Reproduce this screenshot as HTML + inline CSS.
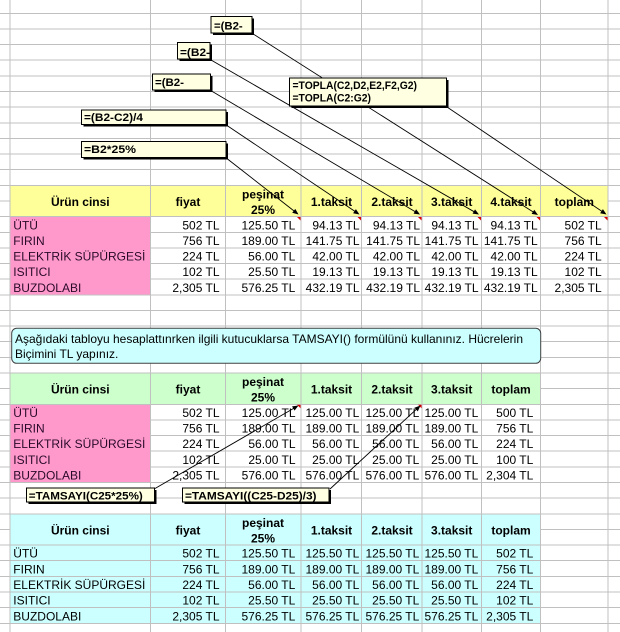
<!DOCTYPE html>
<html>
<head>
<meta charset="utf-8">
<style>
html,body{margin:0;padding:0;background:#fff;}
svg{display:block;}
text{font-family:"Liberation Sans",Arial,sans-serif;font-size:12px;fill:#000;}
.b{font-weight:bold;}
.c{text-anchor:middle;}
.r{text-anchor:end;}
.p{fill:#2a0a2a;}
.cm{font-family:"Liberation Sans",Arial,sans-serif;font-weight:bold;font-size:11px;}
</style>
</head>
<body>
<svg width="620" height="632" viewBox="0 0 620 632" xmlns="http://www.w3.org/2000/svg">
<defs>
<clipPath id="cb2"><rect x="178" y="43" width="31.5" height="15.5"/></clipPath>
</defs>
<rect x="0" y="0" width="620" height="632" fill="#fff"/>

<!-- fills -->
<rect x="10" y="185.3" width="598" height="31.3" fill="#FFFF99"/>
<rect x="10" y="216.6" width="140.5" height="78.2" fill="#FF99CC"/>
<rect x="10" y="373" width="530.5" height="31.3" fill="#CCFFCC"/>
<rect x="10" y="404.3" width="140.5" height="78.2" fill="#FF99CC"/>
<rect x="10" y="513.8" width="530.5" height="109.5" fill="#CCFFFF"/>

<!-- gridlines -->
<g stroke="#c0c0c0" stroke-width="1" fill="none" shape-rendering="crispEdges">
<path d="
M0 13.3H620 M0 28.94H620 M0 44.58H620 M0 60.22H620 M0 75.86H620 M0 91.5H620
M0 107.14H620 M0 122.78H620 M0 138.42H620 M0 154.06H620 M0 169.7H620 M0 185.34H620
M0 200.98H10 M608 200.98H620
M0 216.62H620
M0 232.26H10 M150.5 232.26H620
M0 247.9H10 M150.5 247.9H620
M0 263.54H10 M150.5 263.54H620
M0 279.18H10 M150.5 279.18H620
M0 294.82H620 M0 310.46H620 M0 326.1H620 M0 341.74H620 M0 357.38H620 M0 373.02H620
M0 388.66H10 M540.5 388.66H620
M0 404.3H620
M0 419.94H10 M150.5 419.94H620
M0 435.58H10 M150.5 435.58H620
M0 451.22H10 M150.5 451.22H620
M0 466.86H10 M150.5 466.86H620
M0 482.5H620 M0 498.14H620 M0 513.78H620
M0 529.42H10 M540.5 529.42H620
M0 545.06H620 M0 560.7H620 M0 576.34H620 M0 591.98H620 M0 607.62H620 M0 623.26H620
"/>
<path d="M10 0V632 M150.5 0V632 M225.5 0V632 M301 0V632 M361.5 0V632 M422 0V632 M481.5 0V632 M540.5 0V632 M608 0V632"/>
</g>

<!-- table 1 header -->
<text class="b c" x="80.3" y="206">Ürün cinsi</text>
<text class="b c" x="188" y="206">fiyat</text>
<text class="b c" x="263" y="198.3">peşinat</text>
<text class="b c" x="263" y="214">25%</text>
<text class="b c" x="331.5" y="206">1.taksit</text>
<text class="b c" x="392" y="206">2.taksit</text>
<text class="b c" x="451.7" y="206">3.taksit</text>
<text class="b c" x="511" y="206">4.taksit</text>
<text class="b c" x="574.3" y="206">toplam</text>

<!-- table 1 data -->
<g>
<text class="p" x="13.3" y="229.3">ÜTÜ</text>
<text class="p" x="13.3" y="244.9">FIRIN</text>
<text class="p" x="13.3" y="260.5">ELEKTRİK SÜPÜRGESİ</text>
<text class="p" x="13.3" y="276.2">ISITICI</text>
<text class="p" x="13.3" y="291.8">BUZDOLABI</text>

<text class="r" x="219.5" y="229.3">502 TL</text>
<text class="r" x="219.5" y="244.9">756 TL</text>
<text class="r" x="219.5" y="260.5">224 TL</text>
<text class="r" x="219.5" y="276.2">102 TL</text>
<text class="r" x="219.5" y="291.8">2,305 TL</text>

<text class="r" x="295.3" y="229.3">125.50 TL</text>
<text class="r" x="295.3" y="244.9">189.00 TL</text>
<text class="r" x="295.3" y="260.5">56.00 TL</text>
<text class="r" x="295.3" y="276.2">25.50 TL</text>
<text class="r" x="295.3" y="291.8">576.25 TL</text>

<text class="r" x="359.5" y="229.3">94.13 TL</text>
<text class="r" x="359.5" y="244.9">141.75 TL</text>
<text class="r" x="359.5" y="260.5">42.00 TL</text>
<text class="r" x="359.5" y="276.2">19.13 TL</text>
<text class="r" x="359.5" y="291.8">432.19 TL</text>

<text class="r" x="420" y="229.3">94.13 TL</text>
<text class="r" x="420" y="244.9">141.75 TL</text>
<text class="r" x="420" y="260.5">42.00 TL</text>
<text class="r" x="420" y="276.2">19.13 TL</text>
<text class="r" x="420" y="291.8">432.19 TL</text>

<text class="r" x="478.5" y="229.3">94.13 TL</text>
<text class="r" x="478.5" y="244.9">141.75 TL</text>
<text class="r" x="478.5" y="260.5">42.00 TL</text>
<text class="r" x="478.5" y="276.2">19.13 TL</text>
<text class="r" x="478.5" y="291.8">432.19 TL</text>

<text class="r" x="537.7" y="229.3">94.13 TL</text>
<text class="r" x="537.7" y="244.9">141.75 TL</text>
<text class="r" x="537.7" y="260.5">42.00 TL</text>
<text class="r" x="537.7" y="276.2">19.13 TL</text>
<text class="r" x="537.7" y="291.8">432.19 TL</text>

<text class="r" x="601.7" y="229.3">502 TL</text>
<text class="r" x="601.7" y="244.9">756 TL</text>
<text class="r" x="601.7" y="260.5">224 TL</text>
<text class="r" x="601.7" y="276.2">102 TL</text>
<text class="r" x="601.7" y="291.8">2,305 TL</text>
</g>

<!-- instruction box -->
<rect x="11.7" y="328.3" width="529" height="35" rx="5" ry="5" fill="#CCFFFF" stroke="#404040" stroke-width="1"/>
<text x="15" y="343" textLength="508" lengthAdjust="spacingAndGlyphs">Aşağıdaki tabloyu hesaplattınrken ilgili kutucuklarsa TAMSAYI() formülünü kullanınız. Hücrelerin</text>
<text x="15" y="358.2">Biçimini TL yapınız.</text>

<!-- table 2 header -->
<text class="b c" x="80.3" y="393.7">Ürün cinsi</text>
<text class="b c" x="188" y="393.7">fiyat</text>
<text class="b c" x="263" y="386">peşinat</text>
<text class="b c" x="263" y="401.7">25%</text>
<text class="b c" x="331.5" y="393.7">1.taksit</text>
<text class="b c" x="392" y="393.7">2.taksit</text>
<text class="b c" x="451.7" y="393.7">3.taksit</text>
<text class="b c" x="511" y="393.7">toplam</text>

<!-- table 2 data -->
<g>
<text class="p" x="13.3" y="417">ÜTÜ</text>
<text class="p" x="13.3" y="432.6">FIRIN</text>
<text class="p" x="13.3" y="448.2">ELEKTRİK SÜPÜRGESİ</text>
<text class="p" x="13.3" y="463.9">ISITICI</text>
<text class="p" x="13.3" y="479.5">BUZDOLABI</text>

<text class="r" x="219.5" y="417">502 TL</text>
<text class="r" x="219.5" y="432.6">756 TL</text>
<text class="r" x="219.5" y="448.2">224 TL</text>
<text class="r" x="219.5" y="463.9">102 TL</text>
<text class="r" x="219.5" y="479.5">2,305 TL</text>

<text class="r" x="295.5" y="417">125.00 TL</text>
<text class="r" x="295.5" y="432.6">189.00 TL</text>
<text class="r" x="295.5" y="448.2">56.00 TL</text>
<text class="r" x="295.5" y="463.9">25.00 TL</text>
<text class="r" x="295.5" y="479.5">576.00 TL</text>

<text class="r" x="359.3" y="417">125.00 TL</text>
<text class="r" x="359.3" y="432.6">189.00 TL</text>
<text class="r" x="359.3" y="448.2">56.00 TL</text>
<text class="r" x="359.3" y="463.9">25.00 TL</text>
<text class="r" x="359.3" y="479.5">576.00 TL</text>

<text class="r" x="419.3" y="417">125.00 TL</text>
<text class="r" x="419.3" y="432.6">189.00 TL</text>
<text class="r" x="419.3" y="448.2">56.00 TL</text>
<text class="r" x="419.3" y="463.9">25.00 TL</text>
<text class="r" x="419.3" y="479.5">576.00 TL</text>

<text class="r" x="478.3" y="417">125.00 TL</text>
<text class="r" x="478.3" y="432.6">189.00 TL</text>
<text class="r" x="478.3" y="448.2">56.00 TL</text>
<text class="r" x="478.3" y="463.9">25.00 TL</text>
<text class="r" x="478.3" y="479.5">576.00 TL</text>

<text class="r" x="533.3" y="417">500 TL</text>
<text class="r" x="533.3" y="432.6">756 TL</text>
<text class="r" x="533.3" y="448.2">224 TL</text>
<text class="r" x="533.3" y="463.9">100 TL</text>
<text class="r" x="533.3" y="479.5">2,304 TL</text>
</g>

<!-- table 3 header -->
<text class="b c" x="80.3" y="534.5">Ürün cinsi</text>
<text class="b c" x="188" y="534.5">fiyat</text>
<text class="b c" x="263" y="526.8">peşinat</text>
<text class="b c" x="263" y="542.5">25%</text>
<text class="b c" x="331.5" y="534.5">1.taksit</text>
<text class="b c" x="392" y="534.5">2.taksit</text>
<text class="b c" x="451.7" y="534.5">3.taksit</text>
<text class="b c" x="511" y="534.5">toplam</text>

<!-- table 3 data -->
<g>
<text x="13.3" y="557.7">ÜTÜ</text>
<text x="13.3" y="573.3">FIRIN</text>
<text x="13.3" y="589">ELEKTRİK SÜPÜRGESİ</text>
<text x="13.3" y="604.6">ISITICI</text>
<text x="13.3" y="620.3">BUZDOLABI</text>

<text class="r" x="219.5" y="557.7">502 TL</text>
<text class="r" x="219.5" y="573.3">756 TL</text>
<text class="r" x="219.5" y="589">224 TL</text>
<text class="r" x="219.5" y="604.6">102 TL</text>
<text class="r" x="219.5" y="620.3">2,305 TL</text>

<text class="r" x="295.3" y="557.7">125.50 TL</text>
<text class="r" x="295.3" y="573.3">189.00 TL</text>
<text class="r" x="295.3" y="589">56.00 TL</text>
<text class="r" x="295.3" y="604.6">25.50 TL</text>
<text class="r" x="295.3" y="620.3">576.25 TL</text>

<text class="r" x="359.3" y="557.7">125.50 TL</text>
<text class="r" x="359.3" y="573.3">189.00 TL</text>
<text class="r" x="359.3" y="589">56.00 TL</text>
<text class="r" x="359.3" y="604.6">25.50 TL</text>
<text class="r" x="359.3" y="620.3">576.25 TL</text>

<text class="r" x="419.3" y="557.7">125.50 TL</text>
<text class="r" x="419.3" y="573.3">189.00 TL</text>
<text class="r" x="419.3" y="589">56.00 TL</text>
<text class="r" x="419.3" y="604.6">25.50 TL</text>
<text class="r" x="419.3" y="620.3">576.25 TL</text>

<text class="r" x="478.3" y="557.7">125.50 TL</text>
<text class="r" x="478.3" y="573.3">189.00 TL</text>
<text class="r" x="478.3" y="589">56.00 TL</text>
<text class="r" x="478.3" y="604.6">25.50 TL</text>
<text class="r" x="478.3" y="620.3">576.25 TL</text>

<text class="r" x="533.3" y="557.7">502 TL</text>
<text class="r" x="533.3" y="573.3">756 TL</text>
<text class="r" x="533.3" y="589">224 TL</text>
<text class="r" x="533.3" y="604.6">102 TL</text>
<text class="r" x="533.3" y="620.3">2,305 TL</text>
</g>

<!-- comment indicators (red) -->
<g fill="#e00000">
<polygon points="297,217 300.5,217 300.5,220.5"/>
<polygon points="357.5,217 361,217 361,220.5"/>
<polygon points="418,217 421.5,217 421.5,220.5"/>
<polygon points="477.5,217 481,217 481,220.5"/>
<polygon points="536.5,217 540,217 540,220.5"/>
<polygon points="604,217 607.5,217 607.5,220.5"/>
<polygon points="297,404.8 300.5,404.8 300.5,408.3"/>
<polygon points="418,404.8 421.5,404.8 421.5,408.3"/>
</g>

<!-- leader lines -->
<g stroke="#000" stroke-width="0.9" fill="none">
<line x1="254" y1="34.5" x2="535" y2="213.1"/>
<line x1="211" y1="60" x2="476" y2="212.8"/>
<line x1="211.5" y1="91" x2="417" y2="212.7"/>
<line x1="227" y1="125.5" x2="357" y2="212.8"/>
<line x1="227.5" y1="159" x2="296" y2="212.5"/>
<line x1="447" y1="107" x2="604" y2="212.8"/>
<line x1="155" y1="488.5" x2="296" y2="407"/>
<line x1="330" y1="489" x2="418.5" y2="407.3"/>
</g>
<g fill="#000">
<polygon points="538,215 531.6,213.9 534.3,209.7"/>
<polygon points="479,214.5 472.55,213.67 475.05,209.33"/>
<polygon points="420,214.5 413.57,213.59 416.11,209.29"/>
<polygon points="359.5,214.5 353.13,213.23 355.91,209.07"/>
<polygon points="298.5,214.5 292.23,212.77 295.31,208.83"/>
<polygon points="606.5,214.5 600.12,213.22 602.92,209.08"/>
<polygon points="298.5,405.5 294.56,410.66 292.06,406.34"/>
<polygon points="420.5,405.5 417.79,411.41 414.39,407.73"/>
</g>

<!-- comment boxes -->
<g>
<rect x="213" y="18.5" width="41" height="16.5" fill="#000"/>
<rect x="211" y="16.5" width="41" height="16.5" fill="#FFFFE1" stroke="#000" stroke-width="1"/>
<text class="cm" x="214" y="29.3" textLength="28.7" lengthAdjust="spacingAndGlyphs">=(B2-</text>

<rect x="179.5" y="44.5" width="32.5" height="16.5" fill="#000"/>
<rect x="177.5" y="42.5" width="32.5" height="16.5" fill="#FFFFE1" stroke="#000" stroke-width="1"/>
<g clip-path="url(#cb2)"><text class="cm" x="180" y="55.8" textLength="30" lengthAdjust="spacingAndGlyphs">=(B2-</text></g>

<rect x="154.5" y="76" width="58" height="16" fill="#000"/>
<rect x="152.5" y="74" width="58" height="16" fill="#FFFFE1" stroke="#000" stroke-width="1"/>
<text class="cm" x="155" y="85.8" textLength="29" lengthAdjust="spacingAndGlyphs">=(B2-</text>

<rect x="83.5" y="112" width="144.5" height="14.5" fill="#000"/>
<rect x="81.5" y="110" width="144.5" height="14.5" fill="#FFFFE1" stroke="#000" stroke-width="1"/>
<text class="cm" x="84" y="121" textLength="59" lengthAdjust="spacingAndGlyphs">=(B2-C2)/4</text>

<rect x="83.5" y="143.5" width="144.5" height="16" fill="#000"/>
<rect x="81.5" y="141.5" width="144.5" height="16" fill="#FFFFE1" stroke="#000" stroke-width="1"/>
<text class="cm" x="84" y="152.8" textLength="52" lengthAdjust="spacingAndGlyphs">=B2*25%</text>

<rect x="291.5" y="80" width="157" height="28" fill="#000"/>
<rect x="289.5" y="78" width="157" height="28" fill="#FFFFE1" stroke="#000" stroke-width="1"/>
<text class="cm" x="292.5" y="89" textLength="124.5" lengthAdjust="spacingAndGlyphs">=TOPLA(C2,D2,E2,F2,G2)</text>
<text class="cm" x="292.5" y="101.4" textLength="78.5" lengthAdjust="spacingAndGlyphs">=TOPLA(C2:G2)</text>

<rect x="28.5" y="490" width="128" height="14" fill="#000"/>
<rect x="26.5" y="488" width="128" height="14" fill="#FFFFE1" stroke="#000" stroke-width="1"/>
<text class="cm" x="28.8" y="499.5" textLength="114" lengthAdjust="spacingAndGlyphs">=TAMSAYI(C25*25%)</text>

<rect x="184.5" y="490" width="146.5" height="14" fill="#000"/>
<rect x="182.5" y="488" width="146.5" height="14" fill="#FFFFE1" stroke="#000" stroke-width="1"/>
<text class="cm" x="185" y="499.5" textLength="131.5" lengthAdjust="spacingAndGlyphs">=TAMSAYI((C25-D25)/3)</text>
</g>
</svg>
</body>
</html>
